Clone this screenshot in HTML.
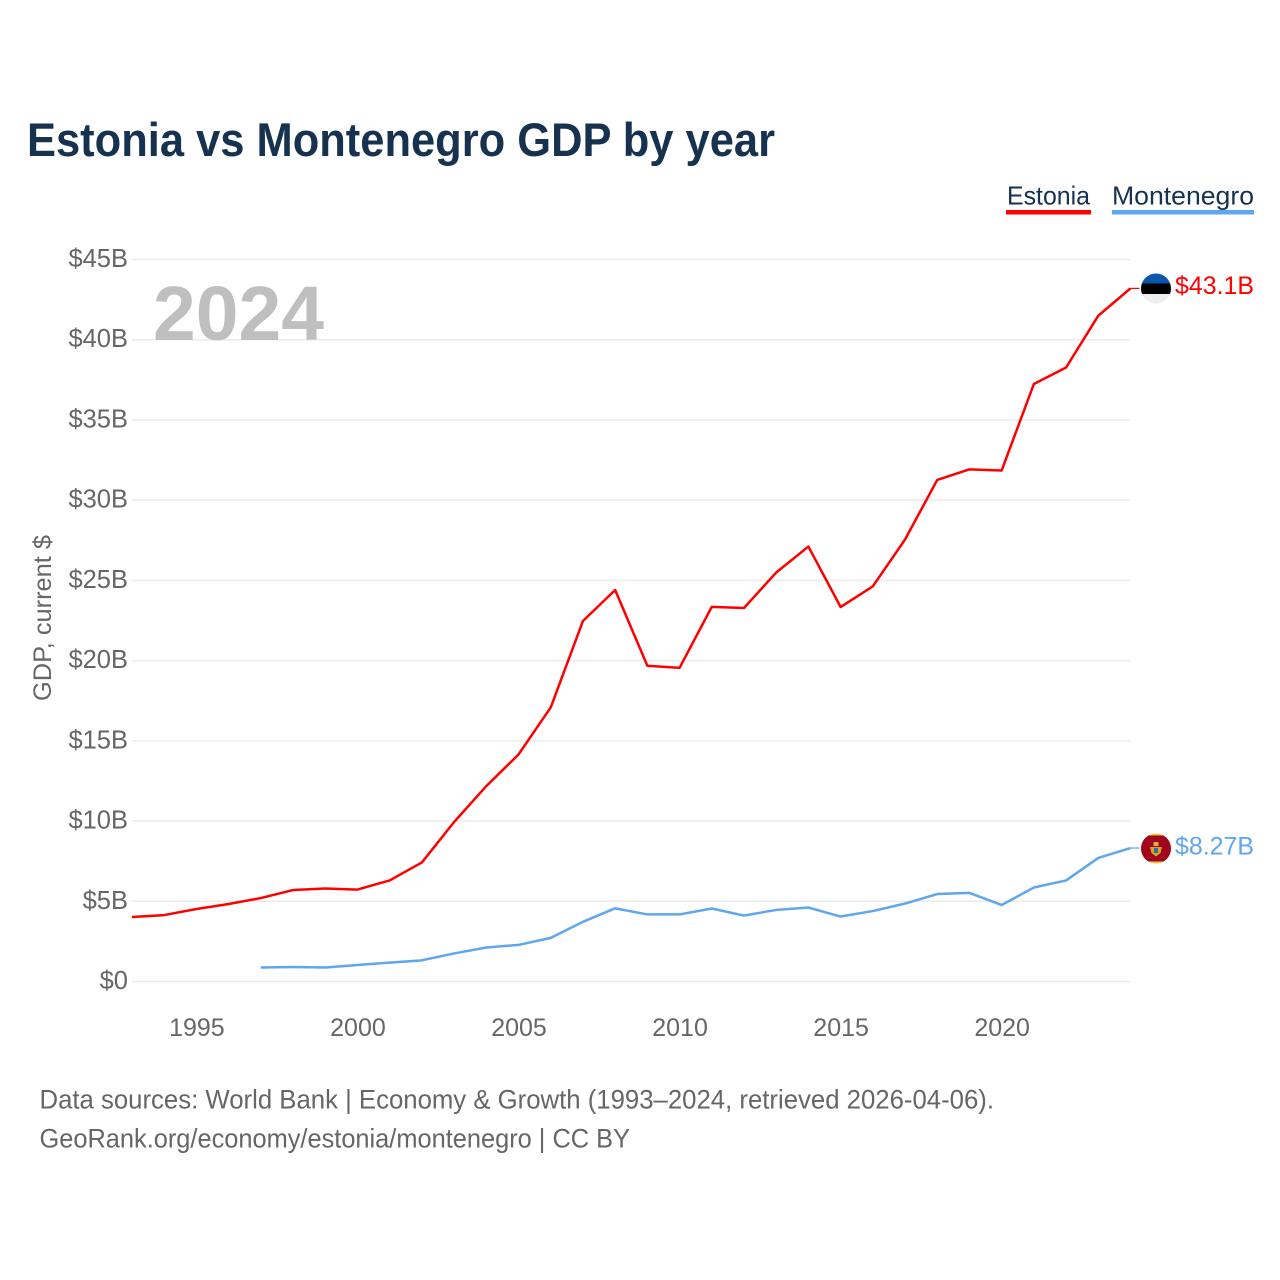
<!DOCTYPE html>
<html lang="en">
<head>
<meta charset="utf-8">
<title>Estonia vs Montenegro GDP by year</title>
<style>
html,body{margin:0;padding:0;background:#fff;width:1280px;height:1280px;overflow:hidden}
svg{display:block;font-family:"Liberation Sans",sans-serif}
</style>
</head>
<body>
<svg id="chart" width="1280" height="1280" viewBox="0 0 1280 1280" xmlns="http://www.w3.org/2000/svg">
  <text x="27" y="156" font-size="47" font-weight="700" fill="#17324f" textLength="748" lengthAdjust="spacingAndGlyphs">Estonia vs Montenegro GDP by year</text>

  <g>
    <g>
      <text x="1007" y="204.500" font-size="26" fill="#17324f" textLength="83" lengthAdjust="spacingAndGlyphs">Estonia</text>
      <rect x="1006" y="210" width="85" height="4.500" fill="#ff0000"/>
    </g>
    <g>
      <text x="1112" y="204.500" font-size="26" fill="#17324f" textLength="142" lengthAdjust="spacingAndGlyphs">Montenegro</text>
      <rect x="1112" y="210" width="142" height="4.500" fill="#5ea6ee"/>
    </g>
  </g>

  <g id="grid"></g>
  <g id="yticks"></g>
  <g id="xticks"></g>

  <text transform="translate(51 701) rotate(-90)" font-size="25" fill="#666666" textLength="166" lengthAdjust="spacingAndGlyphs">GDP, current $</text>

  <text x="153" y="340" font-size="77" font-weight="700" fill="#bfbfbf" textLength="171" lengthAdjust="spacingAndGlyphs">2024</text>

  <g id="series"></g>

  <defs>
    <clipPath id="clip-ee"><circle cx="1156" cy="288.500" r="15"/></clipPath>
    <clipPath id="clip-me"><circle cx="1156" cy="848.500" r="15"/></clipPath>
  </defs>
  <g clip-path="url(#clip-ee)">
    <rect x="1141" y="273" width="30" height="10.500" fill="#0a55ad"/>
    <rect x="1141" y="283.500" width="30" height="10.500" fill="#000000"/>
    <rect x="1141" y="294" width="30" height="10" fill="#eeeeee"/>
  </g>
  <g clip-path="url(#clip-me)">
    <rect x="1141" y="833" width="30" height="31" fill="#f2c53d"/>
    <rect x="1141" y="835.500" width="30" height="26" fill="#a0071e"/>
    <path d="M1150 847h12l-1.500 6-4.500 3.500-4.500-3.500z" fill="#d9a520"/>
    <rect x="1153.500" y="842" width="5" height="4" fill="#e0b030"/>
    <rect x="1154" y="848" width="4" height="5" fill="#2f6fa8"/>
  </g>

  <g id="end-labels"></g>

  <g>
    <text x="39.500" y="1108.500" font-size="27" fill="#666666" textLength="954.500" lengthAdjust="spacingAndGlyphs">Data sources: World Bank | Economy &amp; Growth (1993–2024, retrieved 2026-04-06).</text>
    <text x="39.500" y="1147.500" font-size="27" fill="#666666" textLength="590.500" lengthAdjust="spacingAndGlyphs">GeoRank.org/economy/estonia/montenegro | CC BY</text>
  </g>
</svg>

<script>
const years = [1993,1994,1995,1996,1997,1998,1999,2000,2001,2002,2003,2004,2005,2006,2007,2008,2009,2010,2011,2012,2013,2014,2015,2016,2017,2018,2019,2020,2021,2022,2023,2024];
const estonia = [4.02,4.14,4.52,4.83,5.2,5.7,5.8,5.73,6.3,7.42,9.94,12.18,14.15,17.08,22.47,24.4,19.68,19.55,23.35,23.28,25.49,27.11,23.34,24.63,27.55,31.26,31.92,31.85,37.24,38.27,41.5,43.2];
const montenegro = [null,null,null,null,0.87,0.9,0.87,1.03,1.18,1.32,1.75,2.12,2.28,2.72,3.72,4.56,4.18,4.18,4.55,4.11,4.46,4.61,4.05,4.39,4.86,5.45,5.52,4.77,5.86,6.3,7.7,8.32];
const yTicks = [0,5,10,15,20,25,30,35,40,45];
const xTicks = [1995,2000,2005,2010,2015,2020];
const estoniaEndLabel = "$43.1B";
const montenegroEndLabel = "$8.27B";

const NS = "http://www.w3.org/2000/svg";
const plotLeft = 132, plotRight = 1130.5, plotBottom = 981.5, plotTop = 259.5;
const xMin = 1993, xMax = 2024, yMax = 45;
function xScale(v){ return plotLeft + (v - xMin) / (xMax - xMin) * (plotRight - plotLeft); }
function yScale(v){ return plotBottom - v / yMax * (plotBottom - plotTop); }

function mk(tag, attrs, parent, txt){
  const el = document.createElementNS(NS, tag);
  for (const k in attrs) el.setAttribute(k, attrs[k]);
  if (txt !== undefined) el.textContent = txt;
  parent.appendChild(el);
  return el;
}

const gridG = document.getElementById("grid");
const yG = document.getElementById("yticks");
const xG = document.getElementById("xticks");
const seriesG = document.getElementById("series");
const endG = document.getElementById("end-labels");

yTicks.forEach(function(t){
  const line = mk("line", {x1: plotLeft, x2: plotRight, y1: yScale(t), y2: yScale(t), stroke: "#ebebeb", "stroke-width": 1.5}, gridG);
  
  
  const label = mk("text", {x: 128, y: yScale(t) + 7.5, "text-anchor": "end", "font-size": 25.5, fill: "#666666"}, yG, "$" + t + (t === 0 ? "" : "B"));
  
  
});

xTicks.forEach(function(t){
  const label = mk("text", {x: xScale(t) + 0.5, y: 1036, "text-anchor": "middle", "font-size": 25, fill: "#666666"}, xG, String(t));
  
  
});

function drawSeries(values, color, name, endLabel, labelOffset){
  const pts = [];
  values.forEach(function(v, i){
    if (v !== null) pts.push(xScale(years[i]).toFixed(2) + "," + yScale(v).toFixed(2));
  });
  const last = values[values.length - 1];
  const line = mk("polyline", {points: pts.join(" "), fill: "none", stroke: color, "stroke-width": 2.5, "stroke-linejoin": "round"}, seriesG);
  
  
  const stub = mk("line", {x1: xScale(xMax), x2: 1139.5, y1: yScale(last), y2: yScale(last), stroke: color, "stroke-width": 1.2}, seriesG);
  
  
  const label = mk("text", {x: 1254, y: yScale(last) + labelOffset, "text-anchor": "end", "font-size": 25, fill: color, textLength: 79, lengthAdjust: "spacingAndGlyphs"}, endG, endLabel);
  
  
}

drawSeries(estonia, "#ff0000", "estonia", estoniaEndLabel, 5.5);
drawSeries(montenegro, "#5ea6ee", "montenegro", montenegroEndLabel, 6.5);
</script>
</body>
</html>
